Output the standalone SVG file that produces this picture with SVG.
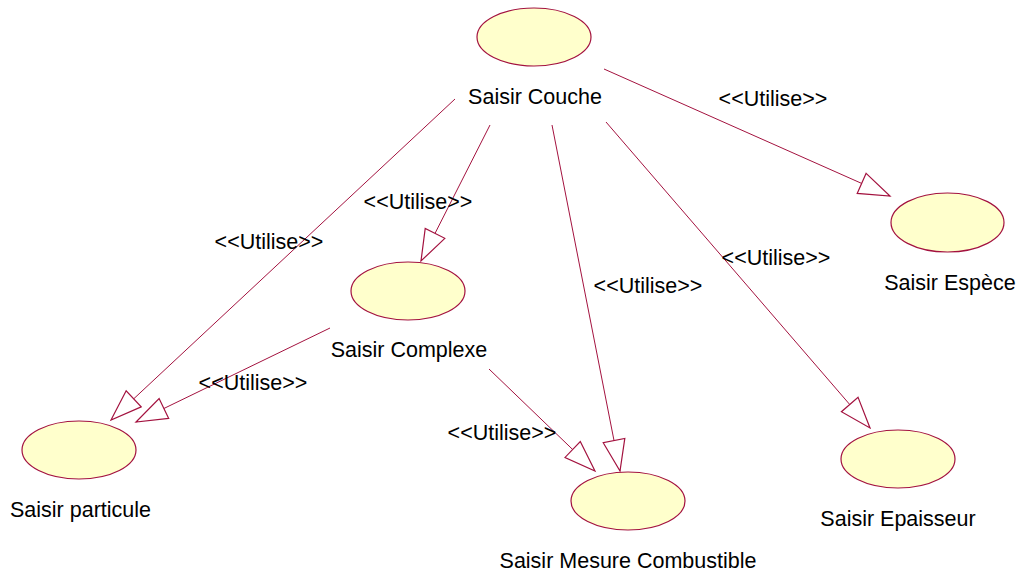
<svg xmlns="http://www.w3.org/2000/svg" width="1018" height="572" viewBox="0 0 1018 572">
<defs>
<style>
.uc ellipse{fill:#ffffcc;stroke:#a3123f;stroke-width:1.2}
text{font-family:"Liberation Sans",Arial,sans-serif;font-size:21.5px;fill:#000}
.c{text-anchor:middle}
#connectors line{stroke:#a3123f;stroke-width:1;marker-end:url(#tri)}
</style>
<marker id="tri" markerUnits="userSpaceOnUse" markerWidth="36" markerHeight="26" refX="32" refY="12" orient="auto" overflow="visible">
<path d="M1,1 L32,12 L1,23 Z" fill="#fff" stroke="#a3123f" stroke-width="1.2"/>
</marker>
</defs>
<rect width="1018" height="572" fill="#fff"/>
<g id="connectors">
<line x1="604" y1="69" x2="890" y2="196"/>
<line x1="455" y1="99" x2="111" y2="420"/>
<line x1="330" y1="328" x2="136" y2="422"/>
<line x1="490" y1="125" x2="421" y2="261"/>
<line x1="552" y1="125" x2="620" y2="471"/>
<line x1="489" y1="369" x2="595" y2="471"/>
<line x1="606" y1="122" x2="870" y2="428"/>
<text class="c" x="773" y="106">&lt;&lt;Utilise&gt;&gt;</text>
<text class="c" x="269" y="249">&lt;&lt;Utilise&gt;&gt;</text>
<text class="c" x="418" y="209">&lt;&lt;Utilise&gt;&gt;</text>
<text class="c" x="648" y="293">&lt;&lt;Utilise&gt;&gt;</text>
<text class="c" x="776" y="265">&lt;&lt;Utilise&gt;&gt;</text>
<text class="c" x="253" y="390">&lt;&lt;Utilise&gt;&gt;</text>
<text class="c" x="502" y="440">&lt;&lt;Utilise&gt;&gt;</text>
</g>
<g id="couche" class="uc">
<ellipse cx="534" cy="37" rx="57" ry="29"/>
<text class="c" x="535" y="104">Saisir Couche</text>
</g>
<g id="espece" class="uc">
<ellipse cx="947.5" cy="222.5" rx="56.5" ry="29.5"/>
<text class="c" x="950" y="290">Saisir Espèce</text>
</g>
<g id="complexe" class="uc">
<ellipse cx="408" cy="291" rx="57" ry="29"/>
<text class="c" x="409" y="357">Saisir Complexe</text>
</g>
<g id="particule" class="uc">
<ellipse cx="79" cy="450" rx="57" ry="29"/>
<text x="10" y="517">Saisir particule</text>
</g>
<g id="mesure" class="uc">
<ellipse cx="628" cy="501" rx="57" ry="29"/>
<text class="c" x="628" y="568">Saisir Mesure Combustible</text>
</g>
<g id="epaisseur" class="uc">
<ellipse cx="898" cy="459" rx="57" ry="29"/>
<text class="c" x="898" y="526">Saisir Epaisseur</text>
</g>
</svg>
